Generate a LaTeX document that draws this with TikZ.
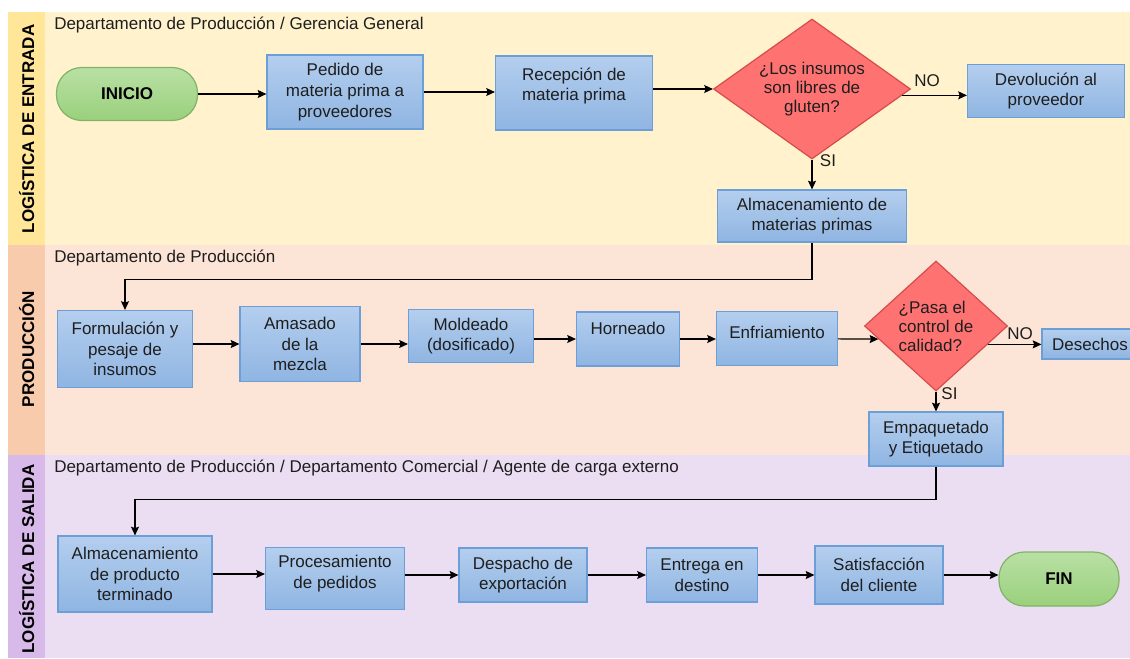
\documentclass[tikz,border=0pt]{standalone}
\usepackage{fontspec}
\setmainfont{Liberation Sans}
\usetikzlibrary{shapes.geometric,arrows.meta,calc}
\definecolor{franja1}{RGB}{255,230,153}
\definecolor{fondo1}{RGB}{255,242,204}
\definecolor{franja2}{RGB}{248,203,173}
\definecolor{fondo2}{RGB}{252,228,214}
\definecolor{franja3}{RGB}{216,186,234}
\definecolor{fondo3}{RGB}{235,222,243}
\definecolor{azularriba}{RGB}{180,206,238}
\definecolor{azulabajo}{RGB}{143,181,226}
\definecolor{azulborde}{RGB}{108,158,216}
\definecolor{verdearriba}{RGB}{185,224,165}
\definecolor{verdeabajo}{RGB}{154,208,124}
\definecolor{verdeborde}{RGB}{130,179,102}
\definecolor{rojo}{RGB}{255,114,114}
\definecolor{rojoborde}{RGB}{214,76,76}
\definecolor{texto}{RGB}{30,30,30}
\tikzstyle{proceso}=[rectangle, draw=azulborde, line width=0.9pt, top color=azularriba, bottom color=azulabajo, align=center, text=texto, inner sep=2pt, font=\fontsize{12.75pt}{15.5pt}\selectfont]
\tikzstyle{terminal}=[rectangle, rounded corners=19pt, draw=verdeborde, line width=0.9pt, top color=verdearriba, bottom color=verdeabajo, text=black, font=\fontsize{12.75pt}{15.5pt}\selectfont\bfseries, minimum width=105.75pt, minimum height=39.75pt]
\tikzstyle{decision}=[diamond, draw=rojoborde, line width=0.9pt, fill=rojo, inner sep=0pt, align=center, text=texto, font=\fontsize{12.75pt}{14.25pt}\selectfont]
\tikzstyle{titulo}=[rotate=90, font=\fontsize{12.75pt}{15pt}\selectfont\bfseries, text height=9pt, text depth=0pt, inner sep=0pt]
\tikzstyle{area}=[anchor=base west, inner sep=0pt, text=texto, font=\fontsize{12.75pt}{15pt}\selectfont]
\tikzstyle{rama}=[inner sep=0pt, text=texto, font=\fontsize{12.75pt}{15pt}\selectfont]
\tikzstyle{flecha}=[line width=0.9pt, -{Stealth[length=6.5pt, width=6pt, inset=1pt]}]

\begin{document}
\begin{tikzpicture}[x=0.75pt, y=-0.75pt]
    \useasboundingbox (0,0) rectangle (1130,658);
    % carriles
    \fill[fondo1] (45,12) rectangle (1130,245);
    \fill[franja1] (8,12) rectangle (45,245);
    \fill[fondo2] (45,245) rectangle (1130,455);
    \fill[franja2] (8,245) rectangle (45,455);
    \fill[fondo3] (45,455) rectangle (1130,658);
    \fill[franja3] (8,455) rectangle (45,658);
    \node[titulo] (t1) at (28,129) {LOGÍSTICA DE ENTRADA};
    \node[titulo] (t2) at (28,349) {PRODUCCIÓN};
    \node[titulo] (t3) at (28,559) {LOGÍSTICA DE SALIDA};
    \node[area] (a1) at (54,29) {Departamento de Producción / Gerencia General};
    \node[area] (a2) at (54,262) {Departamento de Producción};
    \node[area] (a3) at (54,472) {Departamento de Producción / Departamento Comercial / Agente de carga externo};

    % logistica de entrada
    \node[terminal] (inicio) at (127,94) {INICIO};
    \node[proceso, minimum width=117pt, minimum height=55.5pt] (pedido) at (345,92) {Pedido de\\materia prima a\\proveedores};
    \node[proceso, minimum width=117.75pt, minimum height=55.5pt, text depth=13.2pt] (recep) at (574,93) {Recepción de\\materia prima};
    \node[decision, aspect=1.4, minimum width=147.75pt, minimum height=105pt] (dia1) at (812,89) {¿Los insumos\\son libres de\\gluten?};
    \node[proceso, minimum width=117.75pt, minimum height=39.75pt] (devol) at (1046,91) {Devolución al\\proveedor};
    \node[proceso, minimum width=141.75pt, minimum height=39pt] (almmp) at (812,216) {Almacenamiento de\\materias primas};
    \coordinate (dno) at ($(dia1.east)!0.09!(dia1.south)$);
    \node[rama] (no1) at (927,81) {NO};
    \node[rama] (si1) at (828,161) {SI};

    % produccion
    \node[proceso, minimum width=101.25pt, minimum height=57.75pt] (formul) at (125,349) {Formulación y\\pesaje de\\insumos};
    \node[proceso, minimum width=90pt, minimum height=56.25pt] (amasado) at (300,344) {Amasado\\de la\\mezcla};
    \node[proceso, minimum width=93.75pt, minimum height=39.75pt] (moldeado) at (471,336) {Moldeado\\(dosificado)};
    \node[proceso, minimum width=77.25pt, minimum height=40.5pt, text depth=16.5pt] (horneado) at (628,339) {Horneado};
    \node[proceso, minimum width=90.75pt, minimum height=40.5pt, text depth=9pt] (enfriam) at (777,338.5) {Enfriamiento};
    \node[decision, aspect=1.1, align=left, minimum width=107.25pt, minimum height=97.5pt] (dia2) at (936,326) {¿Pasa el\\control de\\calidad?};
    \node[proceso, minimum width=72pt, minimum height=22.5pt] (desechos) at (1090,344) {Desechos};
    \node[proceso, minimum width=100.5pt, minimum height=40.5pt] (empaq) at (936,439) {Empaquetado\\y Etiquetado};
    \coordinate (dentra) at ($(dia2.west)!0.2!(dia2.south)$);
    \coordinate (dno2) at ($(dia2.east)!0.28!(dia2.south)$);
    \node[rama] (no2) at (1020,333.5) {NO};
    \node[rama] (si2) at (949.5,394) {SI};

    % logistica de salida
    \node[proceso, minimum width=115.5pt, minimum height=57pt] (almpt) at (135,574) {Almacenamiento\\de producto\\terminado};
    \node[proceso, minimum width=104.25pt, minimum height=46.5pt, text depth=10.2pt] (proces) at (335,578.5) {Procesamiento\\de pedidos};
    \node[proceso, minimum width=96pt, minimum height=40.5pt] (despacho) at (523,575) {Despacho de\\exportación};
    \node[proceso, minimum width=83.25pt, minimum height=40.5pt] (entrega) at (702,575) {Entrega en\\destino};
    \node[proceso, minimum width=96pt, minimum height=43.5pt] (satisf) at (879,575) {Satisfacción\\del cliente};
    \node[terminal, minimum width=90pt, minimum height=40.5pt] (fin) at (1059,579) {FIN};

    \draw[flecha] (inicio) -- (inicio -| pedido.west);
    \draw[flecha] (pedido) -- (pedido -| recep.west);
    \draw[flecha] (recep.east |- dia1) -- (dia1.west);
    \draw[flecha] (dno) -- (dno -| devol.west);
    \draw[flecha] (dia1) -- (almmp);
    \draw[flecha] (almmp.south) -- ++(0,37) -| (formul);
    \draw[flecha] (formul.east |- amasado) -- (amasado.west);
    \draw[flecha] (amasado) -- (amasado -| moldeado.west);
    \draw[flecha] (moldeado.east |- horneado) -- (horneado.west);
    \draw[flecha] (horneado) -- (horneado -| enfriam.west);
    \draw[flecha] (enfriam) -- (dentra);
    \draw[flecha] (dno2) -- (dno2 -| desechos.west);
    \draw[flecha] (dia2) -- (empaq);
    \draw[flecha] (empaq.south) -- ++(0,33) -| (almpt);
    \draw[flecha] (almpt) -- (almpt -| proces.west);
    \draw[flecha] (proces.east |- despacho) -- (despacho.west);
    \draw[flecha] (despacho) -- (despacho -| entrega.west);
    \draw[flecha] (entrega) -- (entrega -| satisf.west);
    \draw[flecha] (satisf) -- (satisf -| fin.west);
\end{tikzpicture}
\end{document}
